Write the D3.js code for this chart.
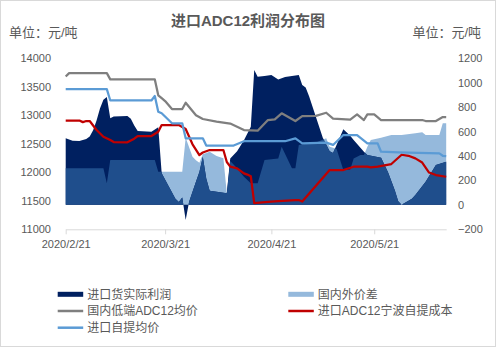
<!DOCTYPE html>
<html>
<head>
<meta charset="utf-8">
<script src="https://cdn.jsdelivr.net/npm/d3@7/dist/d3.min.js"></script>
<style>
  html, body { margin: 0; padding: 0; background: #fff; }
  svg { display: block; font-family: "Liberation Sans", "Noto Sans CJK SC", sans-serif; }
</style>
</head>
<body>
<svg id="chart" width="496" height="347"></svg>
<script>
// ---- data (dates are 2020, "MM-DD") ----
const profitDates = ["02-21","02-23","02-25","02-27","02-28","02-29","03-01","03-02","03-03","03-04","03-05","03-06","03-10","03-11","03-12","03-13","03-17","03-19","03-20","03-24","03-25","03-26","03-27","03-28","03-29","03-30","03-31","04-01","04-02","04-03","04-07","04-08","04-09","04-11","04-13","04-15","04-16","04-17","04-19","04-21","04-23","04-25","04-27","04-29","04-30","05-01","05-02","05-06","05-08","05-09","05-12","05-14","05-15","05-18","05-19","05-23","05-25","05-27","05-28","05-29","06-01","06-02","06-05","06-08","06-11"];
const profitValues = [545,525,523,539,560,610,690,790,860,883,709,723,727,705,650,605,599,635,258,50,23,60,-124,26,107,189,270,394,215,115,100,95,380,440,530,640,1104,1049,1055,1063,1026,1047,1055,1063,981,960,890,550,440,424,619,565,531,435,408,385,270,120,30,0,50,80,189,326,353];

const spreadDates = ["02-21","03-03","03-04","03-05","03-18","03-19","03-26","03-27","03-29","03-30","03-31","04-01","04-03","04-05","04-07","04-08","04-09","04-11","04-13","04-15","04-17","04-19","04-23","04-24","04-27","04-28","04-29","05-01","05-04","05-07","05-08","05-10","05-12","05-14","05-15","05-17","05-18","05-19","05-20","05-23","05-26","05-29","06-02","06-04","06-05","06-09","06-10","06-11"];
const spreadValues = [300,300,176,367,367,271,271,550,394,365,345,415,435,400,381,95,359,300,230,176,176,367,380,476,299,299,490,500,510,545,476,460,286,290,380,409,409,476,531,550,572,572,586,594,572,572,668,668];

const domesticDates = ["02-21","02-22","03-04","03-05","03-18","03-19","03-20","03-21","03-23","03-26","03-27","03-30","04-01","04-05","04-09","04-11","04-13","04-17","04-20","04-22","04-24","04-28","04-30","05-04","05-07","05-09","05-14","05-16","05-18","05-19","05-21","05-23","06-04","06-05","06-08","06-10","06-11"];
const domesticValues = [13680,13740,13740,13630,13630,13350,13300,13250,13110,13110,13220,13000,12935,12890,12855,12800,12742,12730,12917,12930,13035,12900,12987,12990,13045,12940,12925,13017,12917,13017,13017,12917,12917,12900,12900,12970,12970];

const costDates = ["02-21","02-25","02-26","02-27","02-28","03-01","03-03","03-05","03-06","03-10","03-12","03-13","03-17","03-19","03-20","03-25","03-27","03-29","03-31","04-01","04-03","04-07","04-08","04-09","04-11","04-13","04-14","04-15","04-16","04-20","04-23","04-28","04-29","04-30","05-08","05-12","05-15","05-19","05-20","05-22","05-26","05-29","05-31","06-02","06-04","06-06","06-08","06-11"];
const costValues = [12908,12908,12880,12900,12900,12742,12624,12566,12530,12526,12590,12636,12636,12712,12829,12829,12759,12491,12303,12347,12391,12391,12180,12100,12070,11982,11960,11929,11460,11480,11495,11513,11513,11487,12040,12040,12098,12098,12085,12098,12145,12308,12290,12245,12171,11996,11952,11922];

const importDates = ["02-21","03-04","03-05","03-17","03-18","03-19","03-20","03-23","03-26","03-27","04-01","04-02","04-10","04-13","04-25","04-28","04-30","05-07","05-09","05-12","05-16","05-19","05-22","05-23","05-28","06-09","06-10","06-11"];
const importValues = [13460,13460,13260,13260,13338,13063,13035,12860,12860,12596,12596,12470,12470,12545,12545,12596,12508,12520,12480,12654,12654,12508,12508,12361,12350,12333,12290,12285];

const leftTicks = [11000, 11500, 12000, 12500, 13000, 13500, 14000];
const rightTicks = [-200, 0, 200, 400, 600, 800, 1000, 1200];
const dateTicks = ["02-21", "03-21", "04-21", "05-21"];

const titleText = "进口ADC12利润分布图";
const unitText = "单位：元/吨";
const legendItems = [
  { name: "进口货实际利润", type: "area", color: "#002060", col: 0, row: 0 },
  { name: "国内外价差", type: "area", color: "#95B9DC", col: 1, row: 0 },
  { name: "国内低端ADC12均价", type: "line", color: "#7F7F7F", col: 0, row: 1 },
  { name: "进口ADC12宁波自提成本", type: "line", color: "#C00000", col: 1, row: 1 },
  { name: "进口自提均价", type: "line", color: "#5B9BD5", col: 0, row: 2 }
];

// ---- helpers ----
const parseDate = d3.timeParse("%Y-%m-%d");
const toDate = s => parseDate("2020-" + s);
const zip = (ds, vs) => ds.map((d, i) => ({ date: toDate(d), value: vs[i] }));

const profit = zip(profitDates, profitValues);
const spread = zip(spreadDates, spreadValues);
const domestic = zip(domesticDates, domesticValues);
const cost = zip(costDates, costValues);
const importAvg = zip(importDates, importValues);

const svg = d3.select("#chart");
const textColor = "#595959";
const axisColor = "#D9D9D9";

// outer frame
svg.append("rect")
  .attr("x", 0.5).attr("y", 0.5).attr("width", 495).attr("height", 346)
  .attr("fill", "#fff").attr("stroke", axisColor);

// ---- scales ----
const x = d3.scaleTime()
  .domain([toDate("02-21"), toDate("06-11")])
  .range([65.7, 446.2]);
const yL = d3.scaleLinear().domain([11000, 14000]).range([229.3, 58.3]);
const yR = d3.scaleLinear().domain([-200, 1200]).range([229.3, 58.3]);

// ---- areas (right axis) ----
const areaR = d3.area()
  .x(d => x(d.date))
  .y0(yR(0))
  .y1(d => yR(d.value));

const defs = svg.append("defs");
defs.append("clipPath").attr("id", "spreadClip")
  .append("path").attr("d", areaR(spread));

svg.append("path").attr("d", areaR(spread)).attr("fill", "#95B9DC");
svg.append("path").attr("d", areaR(profit)).attr("fill", "#002060");
// where profit and spread overlap
svg.append("path").attr("d", areaR(profit)).attr("fill", "#1F4E8C")
  .attr("clip-path", "url(#spreadClip)");

// ---- lines (left axis) ----
const lineL = d3.line().x(d => x(d.date)).y(d => yL(d.value));
[[domestic, "#7F7F7F"], [cost, "#C00000"], [importAvg, "#5B9BD5"]].forEach(([data, color]) => {
  svg.append("path").attr("d", lineL(data))
    .attr("fill", "none").attr("stroke", color)
    .attr("stroke-width", 2.25).attr("stroke-linejoin", "round");
});

// ---- axes ----
const gLeft = svg.append("g").attr("transform", "translate(54,0)")
  .call(d3.axisLeft(yL).tickValues(leftTicks).tickFormat(d3.format("d")).tickSize(0).tickPadding(3));
gLeft.select(".domain").remove();

const gRight = svg.append("g").attr("transform", "translate(455,0)")
  .call(d3.axisRight(yR).tickValues(rightTicks).tickFormat(d3.format("d")).tickSize(0).tickPadding(3));
gRight.select(".domain").remove();

const gBottom = svg.append("g").attr("transform", `translate(0,${yR(-200)})`)
  .call(d3.axisBottom(x)
    .tickValues(dateTicks.map(toDate))
    .tickFormat(d3.timeFormat("%Y/%-m/%-d"))
    .tickSize(5).tickSizeOuter(0).tickPadding(6));
gBottom.select(".domain").attr("stroke", axisColor);
gBottom.selectAll(".tick line").attr("stroke", axisColor);

svg.selectAll(".tick text")
  .attr("fill", textColor).style("font-size", "11px")
  .style("font-family", "\"Liberation Sans\", \"Noto Sans CJK SC\", sans-serif");

// ---- titles ----
svg.append("text").attr("x", 248).attr("y", 21).attr("dy", "0.35em")
  .attr("text-anchor", "middle").attr("fill", textColor)
  .style("font-size", "15px").style("font-weight", "bold").text(titleText);
svg.append("text").attr("x", 9).attr("y", 32).attr("dy", "0.35em")
  .attr("fill", textColor).style("font-size", "13px").text(unitText);
svg.append("text").attr("x", 481).attr("y", 32).attr("dy", "0.35em")
  .attr("text-anchor", "end").attr("fill", textColor).style("font-size", "13px").text(unitText);

// ---- legend ----
const legendColX = [57.7, 288.3];
const legendRowY = [294.3, 311, 327.7];
const lg = svg.append("g");
legendItems.forEach(it => {
  const lx = legendColX[it.col], ly = legendRowY[it.row];
  if (it.type === "area") {
    lg.append("rect").attr("x", lx).attr("y", ly - 2.5).attr("width", 25.5).attr("height", 5)
      .attr("fill", it.color);
  } else {
    lg.append("line").attr("x1", lx).attr("x2", lx + 25.5).attr("y1", ly).attr("y2", ly)
      .attr("stroke", it.color).attr("stroke-width", 2.5);
  }
  lg.append("text").attr("x", lx + 29.5).attr("y", ly).attr("dy", "0.35em")
    .attr("fill", textColor).style("font-size", "12px").text(it.name);
});
</script>
</body>
</html>
